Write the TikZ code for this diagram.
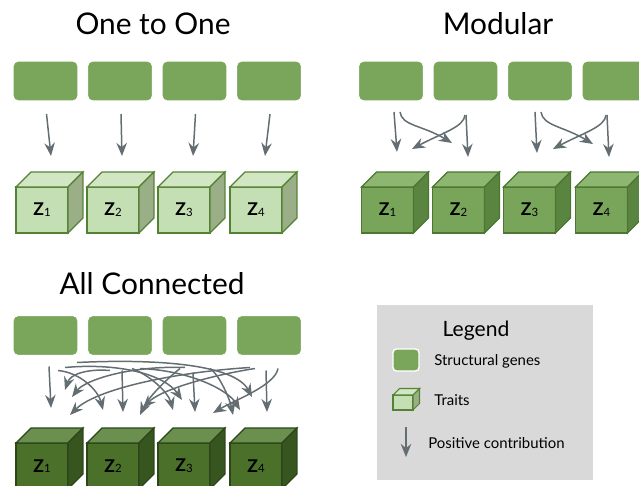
\documentclass[tikz,border=0pt]{standalone}
\usepackage{fontspec}
\setmainfont{Lato}
\usetikzlibrary{calc,arrows.meta}

\definecolor{genegreen}{HTML}{79A65B}
\definecolor{arrowgray}{HTML}{646E72}
\definecolor{legendgray}{HTML}{D9D9D9}
\definecolor{liteFront}{HTML}{C5DFB4}
\definecolor{liteTop}{HTML}{D2E6C4}
\definecolor{liteSide}{HTML}{9AAF88}
\definecolor{liteEdge}{HTML}{548235}
\definecolor{midFront}{HTML}{78A55A}
\definecolor{midTop}{HTML}{8DB771}
\definecolor{midSide}{HTML}{5A8540}
\definecolor{midEdge}{HTML}{4C7631}
\definecolor{darkFront}{HTML}{4A7029}
\definecolor{darkTop}{HTML}{6A8F4E}
\definecolor{darkSide}{HTML}{37561F}
\definecolor{darkEdge}{HTML}{2C4619}

% top and side face of a trait cube: node, depth, top style, side style
\newcommand{\cubefaces}[4]{%
  \filldraw[#3] (#1.north west) -- ++(#2,-#2) -- ($(#1.north east)+(#2,-#2)$) -- (#1.north east) -- cycle;
  \filldraw[#4] (#1.north east) -- ++(#2,-#2) -- ($(#1.south east)+(#2,-#2)$) -- (#1.south east) -- cycle;
}
\newcommand{\zlab}[1]{\textbf{Z}{\fontsize{6.5}{7}\selectfont\raisebox{-0.4pt}{#1}}}

\begin{document}
\begin{tikzpicture}[x=0.02cm, y=-0.02cm,
    gene/.style={fill=genegreen, draw=white, line width=0.6pt, rounded corners=3pt,
      minimum width=1.3cm, minimum height=0.8cm, inner sep=0pt, outer sep=0pt},
    trait/.style={line width=0.7pt, minimum width=1.04cm, minimum height=0.92cm,
      inner sep=0pt, outer sep=0pt, font=\fontsize{10}{12}\selectfont},
    lite/.style={trait, fill=liteFront, draw=liteEdge},
    lite top/.style={fill=liteTop, draw=liteEdge, line width=0.7pt},
    lite side/.style={fill=liteSide, draw=liteEdge, line width=0.7pt},
    mid/.style={trait, fill=midFront, draw=midEdge},
    mid top/.style={fill=midTop, draw=midEdge, line width=0.7pt},
    mid side/.style={fill=midSide, draw=midEdge, line width=0.7pt},
    dark/.style={trait, fill=darkFront, draw=darkEdge},
    dark top/.style={fill=darkTop, draw=darkEdge, line width=0.7pt},
    dark side/.style={fill=darkSide, draw=darkEdge, line width=0.7pt},
    arr/.style={draw=arrowgray, line width=0.85pt, -{Stealth[length=7.5pt, width=6pt, inset=2.5pt]}},
    title/.style={font=\fontsize{17}{20}\selectfont},
    legtext/.style={anchor=west, inner sep=0pt, font=\fontsize{8.5}{10}\selectfont}]
    \useasboundingbox (0,0) rectangle (639,486);
    \clip (0,0) rectangle (639,486);

    % one to one
    \node[title] (tOne) at (153,24) {One to One};
    \foreach \i/\gx/\tx in {1/45.5/42, 2/120/113, 3/194.5/184, 4/269/256} {
        \node[gene] (og\i) at (\gx,81) {};
        \node[lite] (ot\i) at (\tx,210) {\zlab{\i}};
        \cubefaces{ot\i}{15}{lite top}{lite side}
        \draw[arr] ($(og\i.south)+(1,13)$) -- ($(ot\i.north)+(9,-31)$);
    }

    % modular
    \node[title] (tMod) at (498,24) {Modular};
    \foreach \i/\gx/\tx in {1/391/387.5, 2/465.5/458.5, 3/540/529.5, 4/614.5/601.5} {
        \node[gene] (mg\i) at (\gx,81) {};
        \node[mid] (mt\i) at (\tx,210) {\zlab{\i}};
        \cubefaces{mt\i}{15}{mid top}{mid side}
    }
    \draw[arr] ($(mg1.south)+(3,11)$) -- ($(mt1.north)+(9.5,-35)$);
    \draw[arr] ($(mg1.south)+(9,11)$) .. controls +(2,14) and +(-30,-18) .. ($(mt2.north)+(-6.5,-44)$);
    \draw[arr] ($(mg2.south)+(-0.5,14)$) .. controls +(-1,12) and +(30,-16) .. ($(mt1.north)+(24.5,-38)$);
    \draw[arr] ($(mg2.south)+(0.5,14)$) -- ($(mt2.north)+(9.5,-30)$);
    \draw[arr] ($(mg3.south)+(-5,11)$) -- ($(mt3.north)+(7.5,-34)$);
    \draw[arr] ($(mg3.south)+(1,11)$) .. controls +(2,14) and +(-30,-18) .. ($(mt4.north)+(-8.5,-43)$);
    \draw[arr] ($(mg4.south)+(-8.5,14)$) .. controls +(-1,12) and +(30,-16) .. ($(mt3.north)+(23.5,-38)$);
    \draw[arr] ($(mg4.south)+(-7.5,14)$) -- ($(mt4.north)+(7.5,-30)$);

    % all connected
    \node[title] (tAll) at (152,284) {All Connected};
    \foreach \i/\gx/\tx in {1/45.5/42, 2/120/113, 3/194.5/184, 4/269/256} {
        \node[gene] (ag\i) at (\gx,335.5) {};
        \node[dark] (at\i) at (\tx,466) {\zlab{\i}};
        \cubefaces{at\i}{15}{dark top}{dark side}
    }
    \foreach \i/\sx/\sy/\ex/\ey in {1/3.5/11/9/-35, 2/2/15/10/-31, 3/-1.5/17/11/-31, 4/-3/15/11/-31}
        \draw[arr] ($(ag\i.south)+(\sx,\sy)$) -- ($(at\i.north)+(\ex,\ey)$);
    \foreach \s/\t/\sx/\sy/\ax/\ay/\bx/\by/\ex/\ey in {
        1/2/12.5/15/22/2/-5/-20/-10/-33,
        1/3/19.5/12/55/-5/-17/-25/-2/-43,
        1/4/31.5/7/83/-4/-17/-32/-4/-46,
        2/1/-10/15/-25/-2/5/-15/23/-53,
        2/3/12/13/18/7/-5/-18/-11/-33,
        2/4/20/13/50/2/-12/-20/-16/-33,
        3/1/-9.5/12/-55/-2/13/-17/30/-46,
        3/2/-14.5/13/-15/12/8/-17/27/-28,
        3/4/15.5/13/10/7/-3/-15/-23/-28,
        4/1/-19/12/-80/5/25/-25/28/-28,
        4/2/-14/13/-45/7/17/-18/30/-35,
        4/3/9/13/-3/17/22/-13/29/-30}
        \draw[arr] ($(ag\s.south)+(\sx,\sy)$) .. controls +(\ax,\ay) and +(\bx,\by) .. ($(at\t.north)+(\ex,\ey)$);

    % legend
    \fill[legendgray] (377,305) rectangle (593,480);
    \node[font=\fontsize{12}{14}\selectfont] (lgTitle) at (476,331) {Legend};
    \node[gene, minimum width=0.52cm, minimum height=0.44cm, rounded corners=2pt, line width=0.8pt] (lgGene) at (406,360) {};
    \node[legtext] (lgGeneTxt) at (434,361) {Structural genes};
    \node[lite, minimum width=0.4cm, minimum height=0.3cm, line width=0.6pt] (lgTrait) at (403,402.5) {};
    \cubefaces{lgTrait}{6.5}{lite top, line width=0.6pt}{lite side, line width=0.6pt}
    \node[legtext] (lgTraitTxt) at (434,400) {Traits};
    \coordinate (lgA) at (406,427);
    \coordinate (lgB) at (406,457);
    \draw[arr] (lgA) -- (lgB);
    \node[legtext] (lgArrTxt) at (428,443) {Positive contribution};
\end{tikzpicture}
\end{document}
